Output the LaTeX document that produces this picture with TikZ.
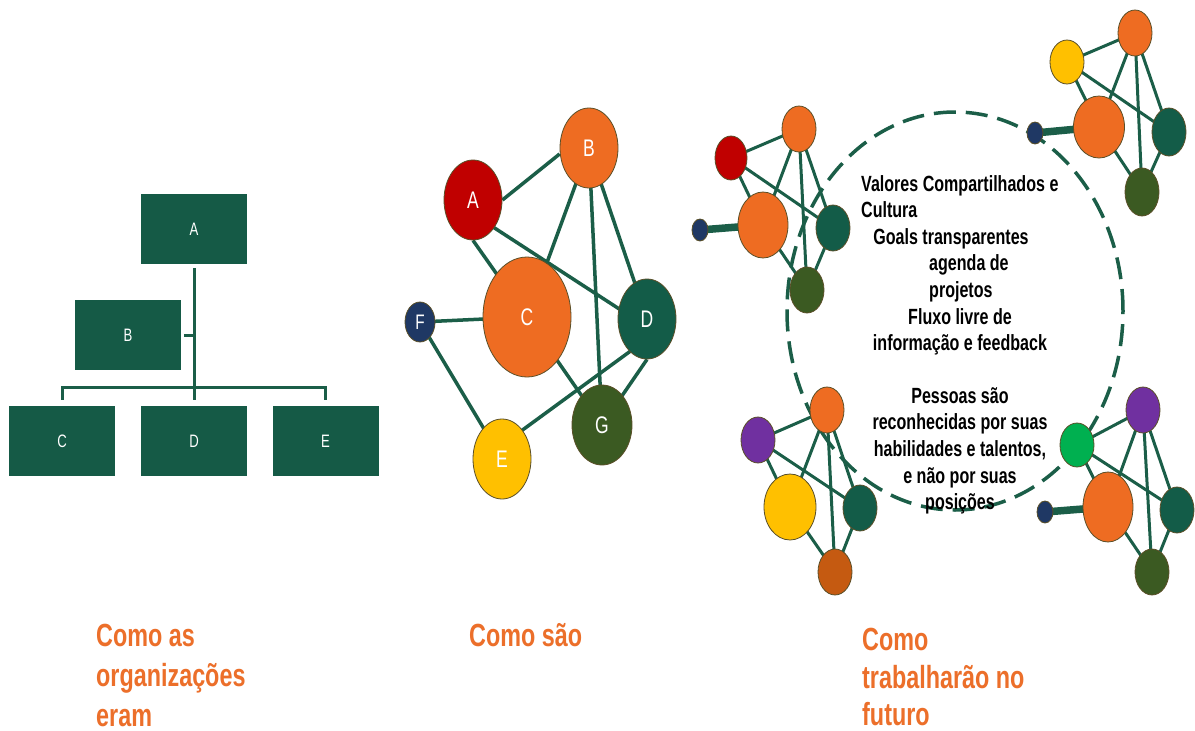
\documentclass[tikz,border=0pt]{standalone}
\usepackage{fontspec}
\setmainfont{Liberation Sans}[FakeStretch=0.73]
\usetikzlibrary{shapes.geometric}
\pgfdeclarelayer{bg}
\pgfdeclarelayer{edges}
\pgfdeclarelayer{ring}
\pgfsetlayers{bg,edges,ring,main}
\definecolor{boxgreen}{HTML}{155A46}
\definecolor{linegreen}{HTML}{1B5E48}
\definecolor{dgreen}{HTML}{135C48}
\definecolor{olivec}{HTML}{3B5A22}
\definecolor{orng}{HTML}{EE6C22}
\definecolor{redn}{HTML}{C00000}
\definecolor{yel}{HTML}{FFC000}
\definecolor{navyc}{HTML}{1F3864}
\definecolor{purp}{HTML}{7030A0}
\definecolor{brgreen}{HTML}{00B050}
\definecolor{dorange}{HTML}{C55A11}
\definecolor{outl}{HTML}{5A4F28}
\definecolor{lblc}{HTML}{EC6F2A}
\tikzset{
  orgbox/.style={fill=boxgreen, minimum width=106pt, minimum height=70pt, text=white, inner sep=0pt, font=\fontsize{18}{18}\selectfont},
  orgline/.style={draw=linegreen, line width=3pt},
  nd/.style={ellipse, draw=outl, line width=0.8pt, inner sep=0pt, text=white, font=\fontsize{24}{24}\selectfont},
  sz/.style n args={2}{minimum width=#1pt, minimum height=#2pt},
  edge/.style={draw=linegreen, line width=3pt},
  medge/.style={draw=linegreen, line width=3.5pt},
  fedge/.style={draw=linegreen, line width=7.5pt},
  ringline/.style={draw=linegreen, line width=3.5pt, dash pattern=on 22pt off 10pt},
  ctext/.style={inner sep=0pt, font=\fontsize{22}{26}\selectfont\bfseries},
  lbl/.style={inner sep=0pt, text=lblc, anchor=base west, font=\fontsize{32}{40}\selectfont\bfseries}
}
\begin{document}
\begin{tikzpicture}[x=1pt,y=-1pt]
\useasboundingbox (0,0) rectangle (1195,731);
\begin{pgfonlayer}{bg}
\fill[white] (0,0) rectangle (1195,731);
\end{pgfonlayer}

% ---------- org chart ----------
\node[orgbox] (oA) at (194,229) {A};
\node[orgbox] (oB) at (128,335) {B};
\node[orgbox] (oC) at (62,441) {C};
\node[orgbox] (oD) at (194,441) {D};
\node[orgbox] (oE) at (325.5,441) {E};
\draw[orgline] ([yshift=-4pt]oA.south) -- ([yshift=6pt]oD.north);
\draw[orgline] ([yshift=6pt]oC.north) -- ([yshift=18pt]oC.north) -- ([yshift=18pt]oE.north) -- ([yshift=6pt]oE.north);
\draw[orgline] ([xshift=3pt]oB.east) -- (oB.east -| oA.south);

% ---------- middle network ----------
\node[nd, sz={58}{80}, fill=redn] (mA) at (473,200) {A};
\node[nd, sz={58}{80}, fill=orng] (mB) at (589,148) {B};
\node[nd, sz={88}{120}, fill=orng] (mC) at (527,317) {C};
\node[nd, sz={58}{80}, fill=dgreen] (mD) at (647,319) {D};
\node[nd, sz={30}{40}, fill=navyc, font=\fontsize{21}{21}\selectfont] (mF) at (420,322) {F};
\node[nd, sz={60}{80}, fill=olivec] (mG) at (602,425) {G};
\node[nd, sz={58}{80}, fill=yel] (mE) at (502,459) {E};
\begin{pgfonlayer}{edges}
\draw[medge] (mA.east) -- ([yshift=-6pt]mB.west);
\draw[medge] (mA.south) -- (mC.center);
\draw[medge] ([yshift=-14pt]mA.center) -- ([yshift=-8pt]mD.center);
\draw[medge] (mB.center) -- (mC.center);
\draw[medge] (mB.center) -- (mG.center);
\draw[medge] (mB.center) -- (mD.center);
\draw[medge] (mF.center) -- (mC.center);
\draw[medge] (mF.center) -- (mE.center);
\draw[medge] (mC.center) -- (mG.center);
\draw[medge] ([yshift=-20pt]mD.center) -- ([yshift=14pt]mE.center);
\draw[medge] (mD.south) -- (mG.center);
\end{pgfonlayer}

% ---------- future: dashed ring ----------
\begin{pgfonlayer}{ring}
\coordinate (rc) at (955,311);
\draw[ringline] (rc) ellipse [x radius=168pt, y radius=199pt];
\end{pgfonlayer}

% cluster 1 (top left)
\node[nd, sz={32}{44}, fill=redn] (k1a) at (731,158) {};
\node[nd, sz={34}{46}, fill=orng] (k1b) at (799,129) {};
\node[nd, sz={50}{66}, fill=orng] (k1c) at (763,225) {};
\node[nd, sz={34}{46}, fill=dgreen] (k1d) at (833,228) {};
\node[nd, sz={34}{46}, fill=olivec] (k1g) at (807,290) {};
\node[nd, sz={16}{22}, fill=navyc] (k1f) at (700,230) {};
% cluster 2 (top right)
\node[nd, sz={34}{44}, fill=yel] (k2a) at (1067,62) {};
\node[nd, sz={34}{46}, fill=orng] (k2b) at (1135,33) {};
\node[nd, sz={51}{62}, fill=orng] (k2c) at (1099,127) {};
\node[nd, sz={34}{48}, fill=dgreen] (k2d) at (1169,132) {};
\node[nd, sz={34}{48}, fill=olivec] (k2g) at (1142,192) {};
\node[nd, sz={16}{22}, fill=navyc] (k2f) at (1035,133) {};
% cluster 3 (bottom left)
\node[nd, sz={34}{46}, fill=purp] (k3a) at (758,440) {};
\node[nd, sz={34}{46}, fill=orng] (k3b) at (827,410) {};
\node[nd, sz={52}{66}, fill=yel] (k3c) at (790,507) {};
\node[nd, sz={34}{46}, fill=dgreen] (k3d) at (860,508) {};
\node[nd, sz={34}{46}, fill=dorange] (k3g) at (835,572) {};
% cluster 4 (bottom right)
\node[nd, sz={34}{44}, fill=brgreen] (k4a) at (1077,445) {};
\node[nd, sz={34}{46}, fill=purp] (k4b) at (1143,410) {};
\node[nd, sz={50}{70}, fill=orng] (k4c) at (1108,507) {};
\node[nd, sz={34}{46}, fill=dgreen] (k4d) at (1177,510) {};
\node[nd, sz={34}{46}, fill=olivec] (k4g) at (1152,572) {};
\node[nd, sz={16}{22}, fill=navyc] (k4f) at (1045,512) {};

\begin{pgfonlayer}{edges}
\foreach \k in {1,2,3,4}{
  \draw[edge] (k\k a.center) -- (k\k b.center);
  \draw[edge] (k\k a.center) -- (k\k c.center);
  \draw[edge] (k\k a.center) -- (k\k d.center);
  \draw[edge] (k\k b.center) -- (k\k c.center);
  \draw[edge] (k\k b.center) -- (k\k g.center);
  \draw[edge] (k\k b.center) -- (k\k d.center);
  \draw[edge] (k\k c.center) -- (k\k g.center);
  \draw[edge] (k\k d.center) -- (k\k g.center);
}
\draw[fedge] (k1f.center) -- (k1c.center);
\draw[fedge] (k2f.center) -- (k2c.center);
\draw[fedge] (k4f.center) -- (k4c.center);
\end{pgfonlayer}

% ring text
\node[ctext, anchor=base west] (t1) at (861,191) {Valores Compartilhados e};
\node[ctext, anchor=base west] (t2) at (861,217.6) {Cultura};
\node[ctext, anchor=base] (t3) at (951,244.2) {Goals transparentes};
\node[ctext, anchor=base west] (t4) at (929,270.8) {agenda de};
\node[ctext, anchor=base west] (t5) at (929,297.4) {projetos};
\node[ctext, anchor=base] (t6) at (960,324) {Fluxo livre de};
\node[ctext, anchor=base] (t7) at (960,350.6) {informação e feedback};
\node[ctext, anchor=base] (t8) at (960,403.2) {Pessoas são};
\node[ctext, anchor=base] (t9) at (960,429.8) {reconhecidas por suas};
\node[ctext, anchor=base] (t10) at (960,456.4) {habilidades e talentos,};
\node[ctext, anchor=base] (t11) at (960,483) {e não por suas};
\node[ctext, anchor=base] (t12) at (960,509.6) {posições};

% bottom labels
\node[lbl] (l1a) at (96,646) {Como as};
\node[lbl] (l1b) at (96,686) {organizações};
\node[lbl] (l1c) at (96,726) {eram};
\node[lbl] (l2a) at (469,646) {Como são};
\node[lbl] (l3a) at (862,650) {Como};
\node[lbl] (l3b) at (862,688) {trabalharão no};
\node[lbl] (l3c) at (862,725) {futuro};
\end{tikzpicture}
\end{document}
